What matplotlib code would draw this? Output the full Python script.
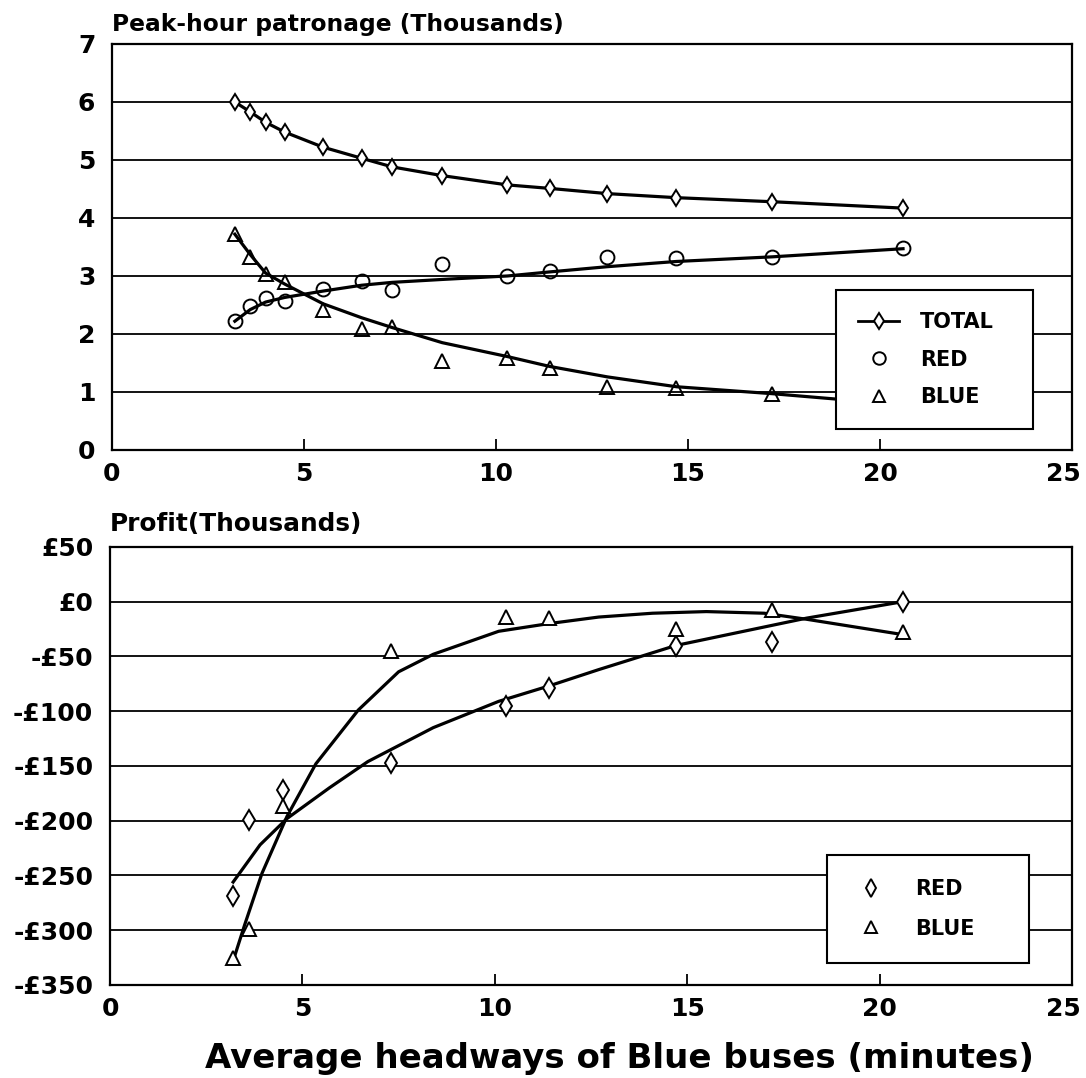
import matplotlib
matplotlib.use("Agg")
import matplotlib.pyplot as plt
import matplotlib.transforms as mtransforms
from matplotlib.lines import Line2D

# ---------------- data ----------------
headway = [3.2, 3.6, 4.0, 4.5, 5.5, 6.5, 7.3, 8.6, 10.3, 11.4, 12.9, 14.7, 17.2, 20.6]

# top panel: peak-hour patronage (thousands)
total_pat = [6.0, 5.83, 5.65, 5.48, 5.22, 5.03, 4.88, 4.73, 4.57, 4.51, 4.42, 4.35, 4.28, 4.17]
red_pat = [2.22, 2.48, 2.62, 2.56, 2.78, 2.92, 2.76, 3.2, 3.0, 3.09, 3.33, 3.31, 3.32, 3.48]
blue_pat = [3.73, 3.33, 3.03, 2.9, 2.42, 2.08, 2.12, 1.53, 1.59, 1.42, 1.09, 1.07, 0.97, 0.75]
red_pat_fit = [2.22, 2.42, 2.55, 2.63, 2.74, 2.84, 2.89, 2.94, 3.0, 3.07, 3.16, 3.25, 3.33, 3.47]
blue_pat_fit = [3.72, 3.37, 3.05, 2.86, 2.52, 2.28, 2.11, 1.85, 1.61, 1.44, 1.26, 1.09, 0.97, 0.78]

# bottom panel: profit (thousands of pounds)
profit_headway = [3.2, 3.6, 4.5, 7.3, 10.3, 11.4, 14.7, 17.2, 20.6]
red_profit = [-269, -199, -172, -147, -95, -79, -40, -37, 0]
blue_profit = [-325, -299, -187, -45, -14, -15, -25, -8, -28]

red_fit_x = [3.2, 3.9, 4.6, 5.7, 6.7, 8.4, 10.1, 11.4, 12.7, 14.7, 18.1, 20.6]
red_fit_y = [-256, -222, -198, -170, -146, -115, -91, -77, -62, -40, -15, 0]
blue_fit_x = [3.2, 3.5, 3.95, 4.6, 5.35, 6.45, 7.5, 8.4, 10.1, 11.4, 12.7, 14.1, 15.5, 17.0, 18.1, 20.6]
blue_fit_y = [-328, -295, -248, -196, -148, -99, -64, -48, -27, -20, -14, -10.5, -9, -10.5, -16, -30]

top_yticks = [0, 1, 2, 3, 4, 5, 6, 7]
bot_yticks = [50, 0, -50, -100, -150, -200, -250, -300, -350]
bot_ylabels = ["£50", "£0", "-£50", "-£100", "-£150", "-£200", "-£250", "-£300", "-£350"]
xticks = [0, 5, 10, 15, 20, 25]

# ---------------- style ----------------
FONT = "DejaVu Sans"
tick_fs = 18
lw_curve = 2.3
lw_grid = 1.3

fig = plt.figure(figsize=(10.86, 10.78), dpi=100)
ax1 = fig.add_axes([0.1031, 0.5826, 0.8840, 0.3766])
ax2 = fig.add_axes([0.1013, 0.0863, 0.8858, 0.4063])


def style_axes(ax):
    ax.set_xlim(0, 25)
    ax.set_xticks(xticks)
    ax.set_xticklabels([str(t) for t in xticks], fontsize=tick_fs, fontweight="bold", family=FONT)
    ax.tick_params(axis="x", direction="in", length=8, width=1.3, pad=9)
    ax.tick_params(axis="y", length=0, pad=12)
    for s in ax.spines.values():
        s.set_linewidth(1.6)
        s.set_color("black")
    ax.grid(axis="y", color="black", linewidth=lw_grid)
    ax.grid(axis="x", visible=False)
    ax.set_axisbelow(True)
    # keep the last x label inside the figure (as in the reference)
    last = ax.get_xticklabels()[-1]
    last.set_transform(last.get_transform() +
                       mtransforms.ScaledTranslation(-9 / 100, 0, fig.dpi_scale_trans))


# ---- top panel ----
style_axes(ax1)
ax1.set_ylim(0, 7)
ax1.set_yticks(top_yticks)
ax1.set_yticklabels([str(t) for t in top_yticks], fontsize=tick_fs, fontweight="bold", family=FONT)

ax1.plot(headway, total_pat, color="black", lw=lw_curve, marker="d", ms=8,
         mfc="white", mec="black", mew=1.4, zorder=3)
ax1.plot(headway, red_pat_fit, color="black", lw=lw_curve, zorder=3)
ax1.plot(headway, blue_pat_fit, color="black", lw=lw_curve, zorder=3)
ax1.plot(headway, red_pat, ls="none", marker="o", ms=10, mfc="none", mec="black", mew=1.4, zorder=4)
ax1.plot(headway, blue_pat, ls="none", marker="^", ms=10, mfc="none", mec="black", mew=1.4, zorder=4)

h_total = Line2D([], [], color="black", lw=2.0, marker="d", ms=8, mfc="white", mec="black", mew=1.4)
h_red = Line2D([], [], ls="none", marker="o", ms=9, mfc="none", mec="black", mew=1.4)
h_blue = Line2D([], [], ls="none", marker="^", ms=9, mfc="none", mec="black", mew=1.4)
leg1 = ax1.legend([h_total, h_red, h_blue], ["TOTAL", "RED", "BLUE"],
                  loc="upper left", bbox_to_anchor=(0.754, 0.394, 0.205, 0), mode="expand",
                  prop={"family": FONT, "weight": "bold", "size": 15},
                  frameon=True, fancybox=False, edgecolor="black", framealpha=1,
                  borderpad=1.05, labelspacing=0.85, handlelength=2.0, handletextpad=1.0,
                  borderaxespad=0)
leg1.get_frame().set_linewidth(1.5)
leg1.set_zorder(10)

# ---- bottom panel ----
style_axes(ax2)
ax2.set_ylim(-350, 50)
ax2.set_yticks(bot_yticks)
ax2.set_yticklabels(bot_ylabels, fontsize=tick_fs, fontweight="bold", family=FONT)

ax2.plot(red_fit_x, red_fit_y, color="black", lw=lw_curve, zorder=3)
ax2.plot(blue_fit_x, blue_fit_y, color="black", lw=lw_curve, zorder=3)
ax2.plot(profit_headway, red_profit, ls="none", marker="d", ms=10, mfc="white", mec="black", mew=1.4, zorder=4)
ax2.plot(profit_headway, blue_profit, ls="none", marker="^", ms=10, mfc="white", mec="black", mew=1.4, zorder=4)

h_red2 = Line2D([], [], ls="none", marker="d", ms=9, mfc="none", mec="black", mew=1.4)
h_blue2 = Line2D([], [], ls="none", marker="^", ms=8, mfc="none", mec="black", mew=1.4)
leg2 = ax2.legend([h_red2, h_blue2], ["RED", "BLUE"],
                  loc="upper left", bbox_to_anchor=(0.745, 0.297, 0.21, 0), mode="expand",
                  prop={"family": FONT, "weight": "bold", "size": 15},
                  frameon=True, fancybox=False, edgecolor="black", framealpha=1,
                  borderpad=1.15, labelspacing=0.95, handlelength=2.0, handletextpad=1.1,
                  borderaxespad=0)
leg2.get_frame().set_linewidth(1.5)
leg2.set_zorder(10)

# ---- titles ----
fig.text(112 / 1086, 1 - 31 / 1078, "Peak-hour patronage (Thousands)", ha="left", va="baseline",
         fontsize=16.8, fontweight="bold", family=FONT)
fig.text(110 / 1086, 1 - 531 / 1078, "Profit(Thousands)", ha="left", va="baseline",
         fontsize=17.8, fontweight="bold", family=FONT)
fig.text(0.570, 1 - 1068 / 1078, "Average headways of Blue buses (minutes)", ha="center",
         va="baseline", fontsize=24.5, fontweight="bold", family=FONT)

fig.savefig("out.png", dpi=100, facecolor="white")
